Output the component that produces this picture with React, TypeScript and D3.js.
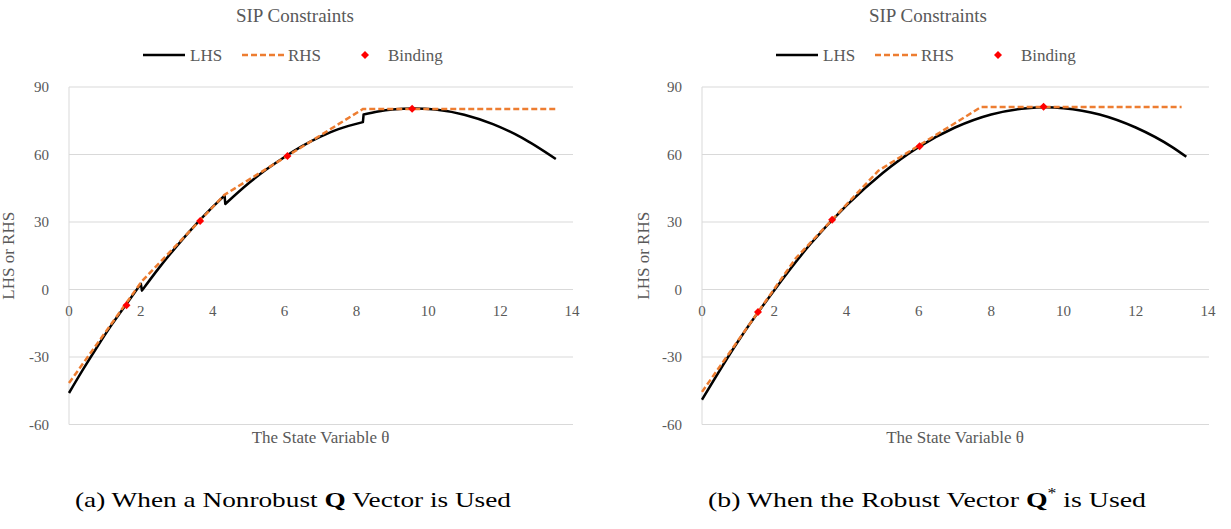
import React from "react";
import * as d3 from "d3";

type Pt = [number, number];

// x ticks / y ticks shared by both panels
const xTicks = [0, 2, 4, 6, 8, 10, 12, 14];
const yTicks = [-60, -30, 0, 30, 60, 90];

// (a) nonrobust Q: LHS has jumps, so it is kept in pieces
const lhsA1: Pt[] = [[0, -46], [0.4, -35.3], [0.8, -25.1], [1.2, -15.4], [1.6, -6.4], [2.0, 2.5]];
const lhsA2: Pt[] = [[2.03, -0.5], [2.5, 9.5], [3.0, 19.3], [3.5, 28.4], [4.0, 36.7], [4.33, 41.8]];
const lhsA3: Pt[] = [[4.35, 38], [5.0, 47.2], [5.5, 53.4], [6.0, 58.9], [6.5, 63.8], [7.0, 67.9], [7.5, 71.3], [8.18, 74.4]];
const lhsA4: Pt[] = [[8.2, 77.8], [8.6, 79.1], [9.0, 80.0], [9.6, 80.5], [10.2, 80.0], [11.0, 77.7], [11.8, 73.5], [12.6, 67.5], [13.55, 58]];
const rhsA: Pt[] = [[0, -41.6], [2.02, 3.5], [4.32, 42], [8.18, 80.2], [13.57, 80.2]];
const bindA: Pt[] = [[1.6, -7], [3.65, 30.5], [6.08, 59.3], [9.55, 80.3]];

// (b) robust Q*
const lhsB: Pt[] = [[0, -49], [1, -23], [2, -0.3], [3, 20.2], [4, 37.4], [5, 51.8], [6, 63.4], [7, 72], [8, 77.8], [9, 80.6], [9.5, 81], [10, 80.6], [11, 77.8], [12, 72], [13, 63.4], [13.4, 59]];
const rhsB: Pt[] = [[0, -45.5], [2.6, 14], [4.88, 52.8], [7.72, 81.1], [13.27, 81.1]];
const bindB: Pt[] = [[1.55, -10], [3.6, 31], [6.02, 63.7], [9.45, 81.2]];

const FONT = "Liberation Serif, LiberationSerif, Tinos, Times New Roman, Times, serif";
const GREY = "#595959";
const GRID = "#d9d9d9";
const ORANGE = "#ED7D31";

// little red diamond (square turned 45deg)
const diamond = d3.symbol(d3.symbolSquare, 32)() || "";

function Panel(props: {
  left: number;
  right: number;
  center: number;
  yLabelX: number;
  lhs: Pt[][];
  rhs: Pt[];
  bind: Pt[];
}) {
  const { left, right, center, yLabelX, lhs, rhs, bind } = props;
  const x = d3.scaleLinear().domain([0, 14]).range([left, right]);
  const y = d3.scaleLinear().domain([-60, 90]).range([424.5, 87]);

  const smooth = d3
    .line<Pt>()
    .x((d) => x(d[0]))
    .y((d) => y(d[1]))
    .curve(d3.curveMonotoneX);
  const straight = d3
    .line<Pt>()
    .x((d) => x(d[0]))
    .y((d) => y(d[1]));

  // join the pieces with straight jumps
  const lhsPath = lhs
    .map((seg, i) => {
      const s = smooth(seg) || "";
      return i === 0 ? s : s.replace(/^M/, "L");
    })
    .join("");

  const lg = left + 74; // legend start
  const legY = 55;

  return (
    <g fontFamily={FONT}>
      {/* title */}
      <text x={center} y={22} textAnchor="middle" fontSize={19} fill={GREY}>
        SIP Constraints
      </text>

      {/* legend */}
      <line x1={lg} x2={lg + 42} y1={legY} y2={legY} stroke="#000" strokeWidth={2.5} />
      <text x={lg + 47} y={legY + 6} fontSize={17} fill={GREY}>LHS</text>
      <line x1={lg + 99} x2={lg + 143} y1={legY} y2={legY} stroke={ORANGE} strokeWidth={2.5} strokeDasharray="6,3" />
      <text x={lg + 145} y={legY + 6} fontSize={17} fill={GREY}>RHS</text>
      <path d={diamond} transform={`translate(${lg + 222},${legY}) rotate(45)`} fill="#ff0000" />
      <text x={lg + 245} y={legY + 6} fontSize={17} fill={GREY}>Binding</text>

      {/* grid */}
      {yTicks.map((t) => (
        <line key={"g" + t} x1={left} x2={right + 1} y1={y(t)} y2={y(t)} stroke={GRID} strokeWidth={1} />
      ))}
      <line x1={left} x2={left} y1={y(90)} y2={y(-60)} stroke={GRID} strokeWidth={1} />

      {/* y ticks */}
      {yTicks.map((t) => (
        <text key={"y" + t} x={left - 20} y={y(t) + 5} textAnchor="end" fontSize={15} fill={GREY}>
          {t}
        </text>
      ))}
      {/* x ticks sit just under the zero line */}
      {xTicks.map((t) => (
        <text key={"x" + t} x={x(t)} y={y(0) + 26} textAnchor="middle" fontSize={15} fill={GREY}>
          {t}
        </text>
      ))}

      {/* axis titles */}
      <text transform={`translate(${yLabelX},${y(15)}) rotate(-90)`} textAnchor="middle" fontSize={17} fill={GREY}>
        LHS or RHS
      </text>
      <text x={(left + right) / 2} y={443} textAnchor="middle" fontSize={17} fill={GREY}>
        The State Variable θ
      </text>

      {/* series */}
      <path d={lhsPath} fill="none" stroke="#000" strokeWidth={2.5} strokeLinejoin="round" />
      <path d={straight(rhs) || ""} fill="none" stroke={ORANGE} strokeWidth={2.5} strokeDasharray="6,3" />
      {bind.map((p, i) => (
        <path key={"b" + i} d={diamond} transform={`translate(${x(p[0])},${y(p[1])}) rotate(45)`} fill="#ff0000" />
      ))}
    </g>
  );
}

export default function App() {
  return (
    <svg width={1231} height={529} style={{ position: "absolute", left: 0, top: 0, background: "#fff" }}>
      <Panel left={69} right={572} center={295} yLabelX={14} lhs={[lhsA1, lhsA2, lhsA3, lhsA4]} rhs={rhsA} bind={bindA} />
      <Panel left={702} right={1208} center={928} yLabelX={649} lhs={[lhsB]} rhs={rhsB} bind={bindB} />

      <g fontFamily={FONT} fontSize={22} fill="#000">
        <text x={293} y={507} textAnchor="middle" textLength={436} lengthAdjust="spacingAndGlyphs">
          (a) When a Nonrobust <tspan fontWeight="bold">Q</tspan> Vector is Used
        </text>
        <text x={927} y={507} textAnchor="middle" textLength={438} lengthAdjust="spacingAndGlyphs">
          (b) When the Robust Vector <tspan fontWeight="bold">Q</tspan>
          <tspan fontSize={14} dy={-9}>*</tspan>
          <tspan dy={9}> is Used</tspan>
        </text>
      </g>
    </svg>
  );
}
